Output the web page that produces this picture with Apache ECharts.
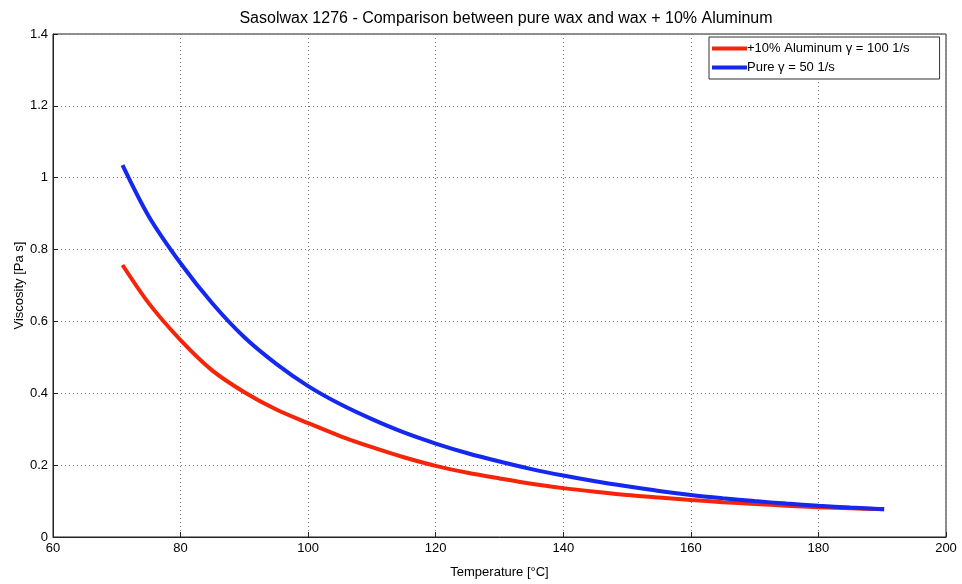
<!DOCTYPE html>
<html>
<head>
<meta charset="utf-8">
<script src="https://cdn.jsdelivr.net/npm/echarts@6/dist/echarts.min.js"></script>
<style>
  html, body { margin: 0; padding: 0; background: #fff; }
  #chart { width: 962px; height: 584px; }
</style>
</head>
<body>
<div id="chart"></div>
<script>
// temperature (°C) at which both curves were read
var temps = [70.9, 75, 80, 85, 90, 95, 100, 105, 110, 115, 120, 125, 130, 135, 140, 145, 150, 155, 160, 165, 170, 175, 180, 185, 190.3];
// +10% Aluminum, gamma = 100 1/s
var alu = [0.757, 0.651, 0.548, 0.463, 0.403, 0.355, 0.317, 0.281, 0.250, 0.222, 0.198, 0.179, 0.163, 0.148, 0.136, 0.126, 0.117, 0.110, 0.103, 0.097, 0.092, 0.087, 0.083, 0.080, 0.077];
// pure wax, gamma = 50 1/s
var pure = [1.035, 0.893, 0.762, 0.650, 0.556, 0.482, 0.420, 0.370, 0.328, 0.291, 0.260, 0.233, 0.210, 0.189, 0.171, 0.155, 0.141, 0.128, 0.117, 0.108, 0.100, 0.093, 0.087, 0.082, 0.077];
var seriesNames = ['+10% Aluminum \u03b3 = 100 1/s', 'Pure \u03b3 = 50 1/s'];

var font = 'Liberation Sans, Arial, sans-serif';
var pairs = function (ys) {
  return temps.map(function (t, i) { return [t, ys[i]]; });
};

var chart = echarts.init(document.getElementById('chart'));
chart.setOption({
  animation: false,
  backgroundColor: '#fff',
  title: {
    text: 'Sasolwax 1276 - Comparison between pure wax and wax + 10% Aluminum',
    left: 501, top: 6, textAlign: 'center',
    textStyle: { fontFamily: font, fontSize: 16, fontWeight: 'normal', color: '#000' }
  },
  legend: {
    data: seriesNames,
    orient: 'vertical',
    left: 709, top: 37,
    padding: [5, 30, 5, 3],
    itemGap: 6,
    itemWidth: 35, itemHeight: 4,
    icon: 'rect',
    borderColor: '#333', borderWidth: 1,
    backgroundColor: '#fff',
    textStyle: { fontFamily: font, fontSize: 13, color: '#000', padding: [0, 0, 0, -5] }
  },
  grid: {
    left: 53, top: 34, right: 16, bottom: 47,
    outerBoundsMode: 'none', containLabel: false,
    show: true, borderColor: '#222', borderWidth: 1
  },
  xAxis: {
    type: 'value', min: 60, max: 200, interval: 20,
    name: 'Temperature [\u00b0C]', nameLocation: 'middle', nameGap: 29,
    nameMoveOverlap: false,
    nameTextStyle: { fontFamily: font, fontSize: 13, color: '#000' },
    axisLine: { show: true, onZero: false, lineStyle: { color: '#222' } },
    axisTick: { inside: true, length: 5, lineStyle: { color: '#222' } },
    axisLabel: { fontFamily: font, fontSize: 13, color: '#000', margin: 5 },
    splitLine: { show: true, lineStyle: { color: '#777', type: [1, 3] } }
  },
  yAxis: {
    type: 'value', min: 0, max: 1.4, interval: 0.2,
    name: 'Viscosity [Pa s]', nameLocation: 'middle', nameGap: 27,
    nameMoveOverlap: false,
    nameTextStyle: { fontFamily: font, fontSize: 13, color: '#000' },
    axisLine: { show: true, lineStyle: { color: '#222' } },
    axisTick: { inside: true, length: 5, lineStyle: { color: '#222' } },
    axisLabel: {
      fontFamily: font, fontSize: 13, color: '#000', margin: 5,
      formatter: function (v) { return String(Math.round(v * 10) / 10); }
    },
    splitLine: { show: true, lineStyle: { color: '#777', type: [1, 3] } }
  },
  series: [
    {
      name: seriesNames[0], type: 'line', data: pairs(alu),
      showSymbol: false, symbol: 'none', smooth: 0.3,
      itemStyle: { color: '#f5250a' },
      lineStyle: { color: '#f5250a', width: 4 }
    },
    {
      name: seriesNames[1], type: 'line', data: pairs(pure),
      showSymbol: false, symbol: 'none', smooth: 0.3,
      itemStyle: { color: '#1428f0' },
      lineStyle: { color: '#1428f0', width: 4 }
    }
  ]
});
</script>
</body>
</html>
